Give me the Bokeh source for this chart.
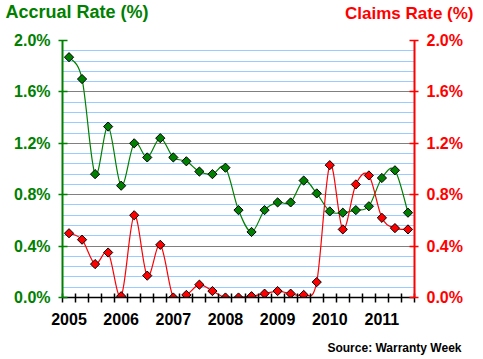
from bokeh.plotting import figure
from bokeh.models import (Range1d, LinearAxis, FixedTicker, PrintfTickFormatter,
                          CustomJSTickFormatter, Label, ColumnDataSource)
from bokeh.embed import file_html
from bokeh.resources import INLINE
import numpy as np

# ---------------- data ----------------
years = ["2005", "2006", "2007", "2008", "2009", "2010", "2011"]
quarters = [f"{y}Q{q}" for y in years for q in range(1, 5)][:27]
accrual_rate = [1.87, 1.70, 0.96, 1.33, 0.87, 1.20, 1.09, 1.24,
                1.09, 1.06, 0.98, 0.96, 1.01, 0.68, 0.51, 0.68,
                0.74, 0.74, 0.91, 0.81, 0.67, 0.66, 0.68, 0.71,
                0.93, 0.99, 0.66]
claims_rate = [0.50, 0.45, 0.26, 0.35, 0.01, 0.64, 0.17, 0.41,
               0.00, 0.02, 0.10, 0.05, 0.00, 0.00, 0.01, 0.03,
               0.05, 0.03, 0.02, 0.12, 1.03, 0.53, 0.88, 0.95,
               0.62, 0.54, 0.53]
y_ticks = [0.0, 0.4, 0.8, 1.2, 1.6, 2.0]
y_minor = [0.08 * i for i in range(26)]

GREEN = "#008000"
RED = "#FF0000"
FONT = "Liberation Sans"

x = [i + 0.5 for i in range(len(quarters))]

p = figure(width=483, height=359, output_backend="svg", toolbar_location=None,
           x_range=Range1d(0, len(quarters)), y_range=Range1d(0, 2.0),
           min_border_left=62, min_border_right=69, min_border_top=40,
           min_border_bottom=62, title=None)
p.outline_line_color = None
p.background_fill_color = "white"
p.border_fill_color = "white"

# grid
p.xgrid.grid_line_color = None
p.ygrid.ticker = FixedTicker(ticks=y_ticks, minor_ticks=y_minor)
p.ygrid.grid_line_color = "#808080"
p.ygrid.grid_line_width = 1
p.ygrid.minor_grid_line_color = "#99CCFF"
p.ygrid.minor_grid_line_width = 1

# x axis
xa = p.xaxis[0]
xa.ticker = FixedTicker(ticks=[i * 4 + 0.5 for i in range(len(years))],
                        minor_ticks=list(range(len(quarters) + 1)))
xa.formatter = CustomJSTickFormatter(args=dict(labels=years),
                                     code="return labels[Math.floor(tick/4)];")
xa.major_tick_line_color = None
xa.minor_tick_line_color = "black"
xa.minor_tick_line_width = 1.5
xa.minor_tick_in = 4
xa.minor_tick_out = 5
xa.axis_line_color = "black"
xa.axis_line_width = 1.5
xa.major_label_text_font = FONT
xa.major_label_text_font_style = "bold"
xa.major_label_text_font_size = "16px"
xa.major_label_text_color = "black"
xa.major_label_standoff = 9

def style_y(ax, color):
    ax.ticker = FixedTicker(ticks=y_ticks)
    ax.formatter = PrintfTickFormatter(format="%.1f%%")
    ax.axis_line_color = color
    ax.axis_line_width = 2
    ax.major_tick_line_color = color
    ax.major_tick_line_width = 1.5
    ax.major_tick_in = 5
    ax.major_tick_out = 4
    ax.minor_tick_line_color = None
    ax.major_label_text_font = FONT
    ax.major_label_text_font_style = "bold"
    ax.major_label_text_font_size = "16px"
    ax.major_label_text_color = color
    ax.major_label_standoff = 8

style_y(p.yaxis[0], GREEN)
ra = LinearAxis()
style_y(ra, RED)
p.add_layout(ra, "right")

# smooth lines via bezier segments (Catmull-Rom control points)
def bezier_source(xs, ys):
    xs = np.asarray(xs, float)
    ys = np.asarray(ys, float)
    n = len(xs)
    xp = np.concatenate([[xs[0]], xs, [xs[-1]]])
    yp = np.concatenate([[ys[0]], ys, [ys[-1]]])
    i = np.arange(n - 1)
    return ColumnDataSource(dict(
        x0=xs[:-1], y0=ys[:-1], x1=xs[1:], y1=ys[1:],
        cx0=xs[:-1] + (xp[i + 2] - xp[i]) / 6, cy0=ys[:-1] + (yp[i + 2] - yp[i]) / 6,
        cx1=xs[1:] - (xp[i + 3] - xp[i + 1]) / 6, cy1=ys[1:] - (yp[i + 3] - yp[i + 1]) / 6,
    ))

p.bezier(x0="x0", y0="y0", x1="x1", y1="y1", cx0="cx0", cy0="cy0", cx1="cx1",
         cy1="cy1", source=bezier_source(x, accrual_rate), line_color=GREEN, line_width=1.2)
p.bezier(x0="x0", y0="y0", x1="x1", y1="y1", cx0="cx0", cy0="cy0", cx1="cx1",
         cy1="cy1", source=bezier_source(x, claims_rate), line_color=RED, line_width=1.2)

p.scatter(x, accrual_rate, marker="square", angle=np.pi / 4, size=6.5,
          fill_color=GREEN, line_color="black", line_width=1)
p.scatter(x, claims_rate, marker="square", angle=np.pi / 4, size=6.5,
          fill_color=RED, line_color="black", line_width=1)

# titles and source
p.add_layout(Label(x=-57, y=29, x_units="screen", y_units="screen",
                   text="Accrual Rate (%)", text_font=FONT, text_font_style="bold",
                   text_font_size="18px", text_color=GREEN, text_align="left",
                   text_baseline="alphabetic"), "above")
p.add_layout(Label(x=411, y=7, x_units="screen", y_units="screen",
                   text="Claims Rate (%)", text_font=FONT, text_font_style="bold",
                   text_font_size="17px", text_color=RED, text_align="right",
                   text_baseline="alphabetic"), "above")
p.add_layout(Label(x=399, y=-6, x_units="screen", y_units="screen",
                   text="Source: Warranty Week", text_font=FONT, text_font_style="bold",
                   text_font_size="12px", text_color="black", text_align="right",
                   text_baseline="middle"), "below")

open("out.html", "w").write(file_html(p, INLINE))
